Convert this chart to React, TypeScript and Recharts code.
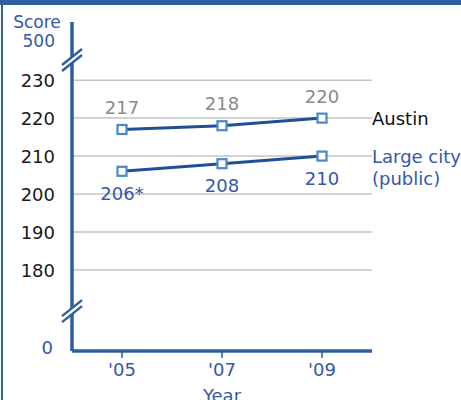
import React from 'react';
import {
  LineChart,
  Line,
  XAxis,
  YAxis,
  ReferenceLine,
} from 'recharts';

const years = ["'05", "'07", "'09"];
const austin = [217, 218, 220];
const largeCity = [206, 208, 210];
const largeCityNotes = ['*', '', ''];
const gridValues = [180, 190, 200, 210, 220, 230];

// the axis is broken: "0" and "500" sit on stand-in positions of the scale
const ZERO_AT = 159.5;
const TOP_AT = 240.3;
const BREAK_LOW = 169.2;
const BREAK_HIGH = 235.3;

const data = years.map((year, i) => ({
  year,
  austin: austin[i],
  largeCity: largeCity[i],
  note: largeCityNotes[i],
}));

const FONT = '"DejaVu Sans", Verdana, sans-serif';
const AXIS = '#2d5fa0';
const LINE = '#1f4f96';
const MARK = '#4a88c8';
const BLUE = '#3558a8';
const GREY = '#8a8a8a';

const YTick = (props: any) => {
  const { x, y, payload } = props;
  const v = payload.value;
  if (v === BREAK_LOW || v === BREAK_HIGH) {
    return (
      <g>
        <polygon
          points={`${x - 10},${y + 5} ${x + 10},${y - 11} ${x + 10},${y - 5} ${x - 10},${y + 11}`}
          fill="#fff"
        />
        <line x1={x - 10} y1={y + 5} x2={x + 10} y2={y - 11} stroke={AXIS} strokeWidth={2.5} />
        <line x1={x - 10} y1={y + 11} x2={x + 10} y2={y - 5} stroke={AXIS} strokeWidth={2.5} />
      </g>
    );
  }
  if (v === TOP_AT) {
    return (
      <g fontFamily={FONT} fontSize={17} fill={BLUE}>
        <text x={x - 35} y={y - 19} textAnchor="middle" dominantBaseline="central">Score</text>
        <text x={x - 17} y={y} textAnchor="end" dominantBaseline="central">500</text>
      </g>
    );
  }
  if (v === ZERO_AT) {
    return (
      <text x={x - 19} y={y} textAnchor="end" dominantBaseline="central" fontFamily={FONT} fontSize={18} fill={BLUE}>
        0
      </text>
    );
  }
  return (
    <text x={x - 17} y={y} textAnchor="end" dominantBaseline="central" fontFamily={FONT} fontSize={18} fill="#1a1a1a">
      {v}
    </text>
  );
};

const square = (cx: number, cy: number) => (
  <rect x={cx - 4.5} y={cy - 4.5} width={9} height={9} fill="#fff" stroke={MARK} strokeWidth={2.2} />
);

const AustinDot = (props: any) => {
  const { cx, cy, index, payload } = props;
  return (
    <g key={`a${index}`} fontFamily={FONT} fontSize={18}>
      {square(cx, cy)}
      <text x={cx} y={cy - 22} textAnchor="middle" dominantBaseline="central" fill={GREY}>
        {payload.austin}
      </text>
      {index === years.length - 1 && (
        <text x={cx + 50} y={cy} dominantBaseline="central" fill="#111">Austin</text>
      )}
    </g>
  );
};

const CityDot = (props: any) => {
  const { cx, cy, index, payload } = props;
  return (
    <g key={`c${index}`} fontFamily={FONT} fontSize={18} fill={BLUE}>
      {square(cx, cy)}
      <text x={cx} y={cy + 22} textAnchor="middle" dominantBaseline="central">
        {`${payload.largeCity}${payload.note}`}
      </text>
      {index === years.length - 1 && (
        <g>
          <text x={cx + 50} y={cy} dominantBaseline="central">Large city</text>
          <text x={cx + 50} y={cy + 22} dominantBaseline="central">(public)</text>
        </g>
      )}
    </g>
  );
};

const YearLabel = (props: any) => {
  const { viewBox } = props;
  return (
    <text x={viewBox.x + viewBox.width / 2} y={viewBox.y + 51} textAnchor="middle" fontFamily={FONT} fontSize={18} fill={BLUE}>
      Year
    </text>
  );
};

export default function App() {
  return (
    <div style={{ position: 'absolute', left: 0, top: 0, width: 461, height: 400, overflow: 'hidden', background: '#fff' }}>
      <div style={{ position: 'absolute', left: 0, top: 0, width: 461, height: 5, background: '#2e619e' }} />
      <div style={{ position: 'absolute', left: 1, top: 0, width: 2, height: 400, background: '#2e619e' }} />
      <LineChart
        width={461}
        height={400}
        data={data}
        margin={{ top: 22, right: 89, bottom: 0, left: 8 }}
      >
        {gridValues.map((v) => (
          <ReferenceLine key={v} y={v} stroke="#c4c4c4" strokeWidth={1.5} />
        ))}
        <XAxis
          dataKey="year"
          scale="point"
          padding={{ left: 50, right: 50 }}
          height={49}
          axisLine={{ stroke: AXIS, strokeWidth: 3.5 }}
          tickLine={{ stroke: AXIS, strokeWidth: 1.5 }}
          tickSize={7}
          tickMargin={5}
          tick={{ fill: BLUE, fontSize: 18, fontFamily: FONT }}
          label={<YearLabel />}
        />
        <YAxis
          type="number"
          domain={[158.7, 245.3]}
          allowDataOverflow
          ticks={[ZERO_AT, BREAK_LOW, ...gridValues, BREAK_HIGH, TOP_AT]}
          interval={0}
          width={64}
          tickSize={0}
          tickMargin={0}
          tickLine={false}
          axisLine={{ stroke: AXIS, strokeWidth: 3.5 }}
          tick={<YTick />}
        />
        <Line
          dataKey="austin"
          stroke={LINE}
          strokeWidth={3}
          dot={AustinDot}
          activeDot={false}
          isAnimationActive={false}
        />
        <Line
          dataKey="largeCity"
          stroke={LINE}
          strokeWidth={3}
          dot={CityDot}
          activeDot={false}
          isAnimationActive={false}
        />
      </LineChart>
    </div>
  );
}
